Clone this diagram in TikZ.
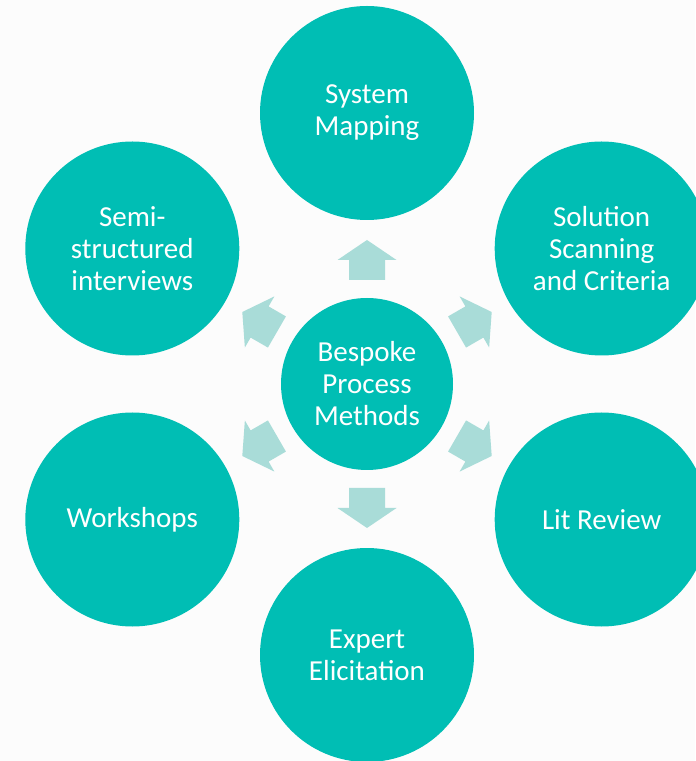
\documentclass[tikz,border=0pt]{standalone}
\usepackage{fontspec}
\setmainfont{Carlito}
\definecolor{tealc}{HTML}{00BEB4}
\definecolor{arrowc}{HTML}{A9DCD8}
\definecolor{bgc}{HTML}{FCFCFC}
\begin{document}
\begin{tikzpicture}[
    hub/.style={circle, fill=tealc, minimum size=3.44cm, inner sep=0pt,
      text=white, align=center, font=\fontsize{16.5}{18.2}\selectfont},
    method/.style={hub, minimum size=4.28cm},
    blockarrow/.style={fill=arrowc}
  ]
    % Background and page size
    \path[use as bounding box, fill=bgc] (-7.34,7.68) rectangle (6.56,-7.54);

    % Centre
    \node[hub] (hub) at (0,0) {Bespoke\\Process\\Methods};

    % Methods around the centre
    \foreach \a/\name/\txt in {90/map/{System\\Mapping},
        30/scan/{Solution\\Scanning\\and Criteria},
        -30/lit/{Lit Review},
        -90/expert/{Expert\\Elicitation},
        -150/work/{Workshops},
        150/semi/{Semi-\\structured\\interviews}}
      \node[method] (\name) at (\a:5.42) {\txt};

    % Arrows from the centre
    \foreach \a in {90,30,-30,-90,-150,150}
      \fill[blockarrow, shift={(hub)}, rotate=\a]
        (2.08,-0.36) -- (2.48,-0.36) -- (2.48,-0.59) -- (2.88,0)
        -- (2.48,0.59) -- (2.48,0.36) -- (2.08,0.36) -- cycle;

  \end{tikzpicture}
\end{document}
